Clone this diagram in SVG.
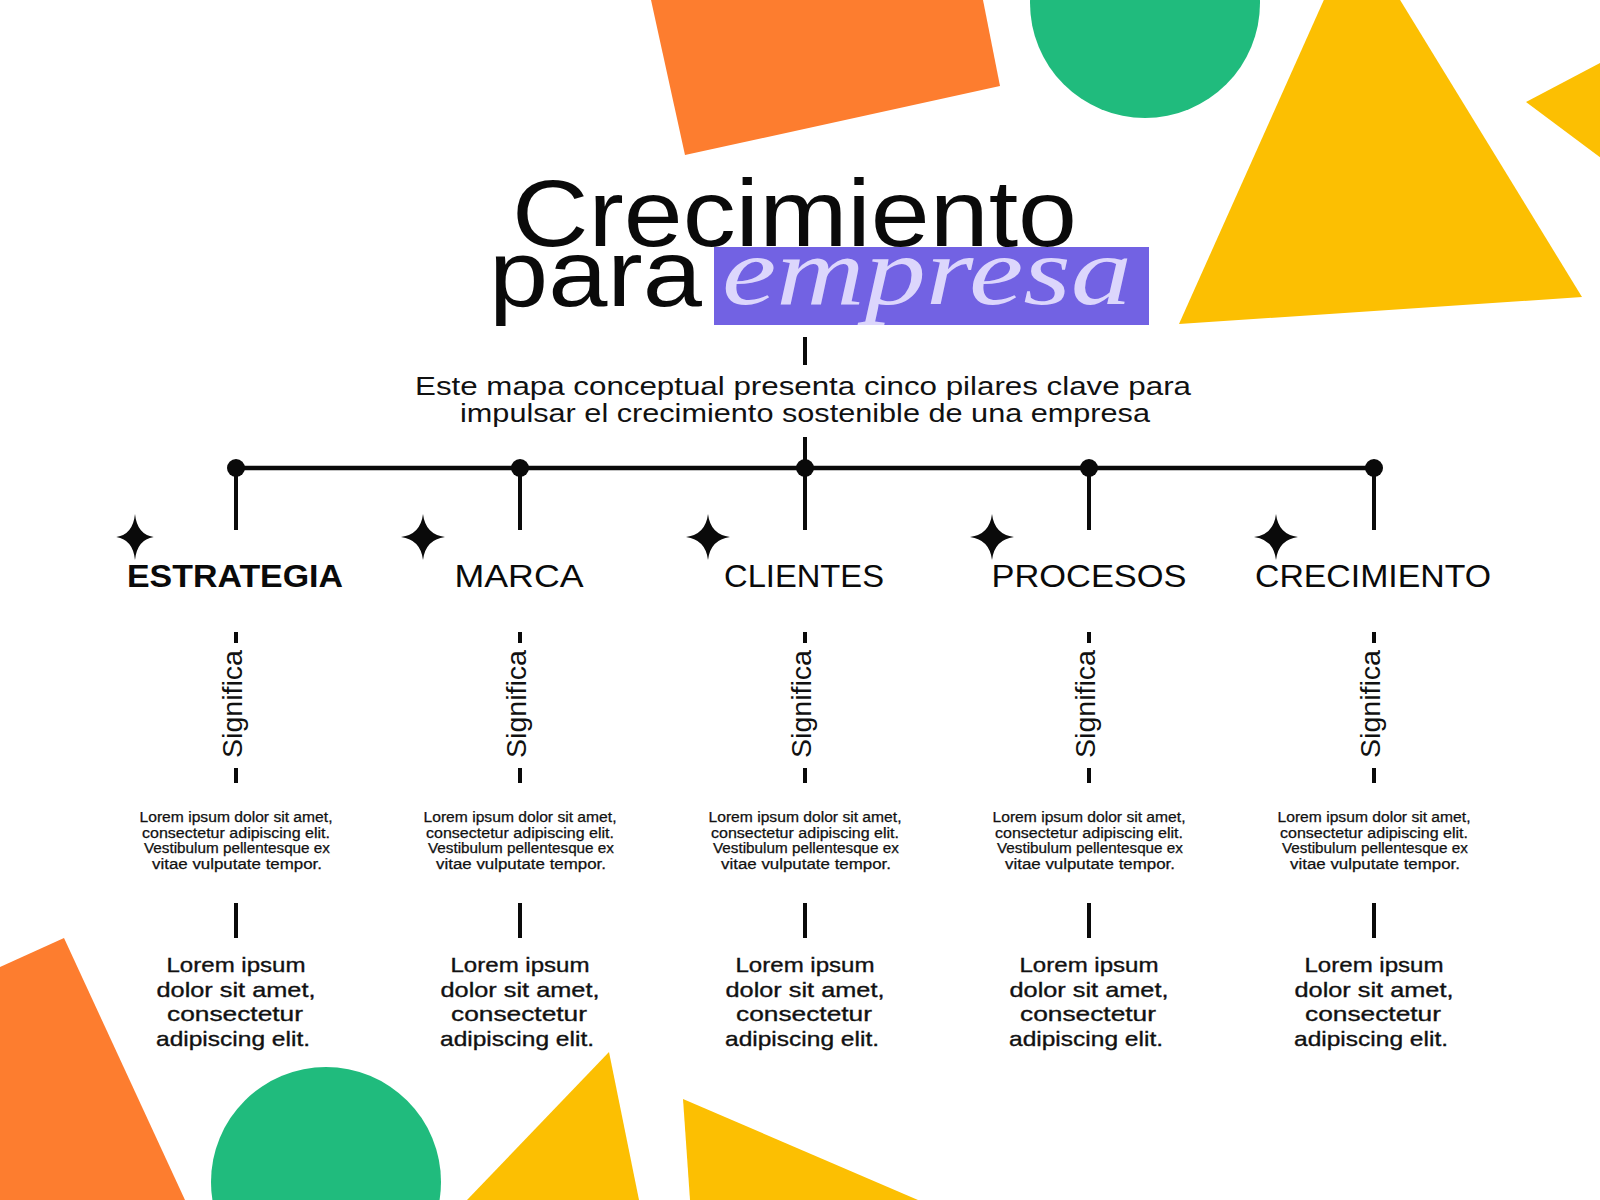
<svg xmlns="http://www.w3.org/2000/svg" width="1600" height="1200" viewBox="0 0 1600 1200">
<defs>
<style>
.bg{fill:#ffffff}
.or{fill:#fd7d2f}
.gr{fill:#20bb7d}
.ye{fill:#fcbf02}
.ln{stroke:#0a0a0a;stroke-width:4;fill:none}
.dot{fill:#0a0a0a}
.title{font-family:"Liberation Sans",Arial,sans-serif;font-size:95px;fill:#0a0a0a}
.script{font-family:"Liberation Serif","DejaVu Serif",serif;font-style:italic;font-size:98px;fill:#dcd6fc}
.sub{font-family:"Liberation Sans",Arial,sans-serif;font-size:26px;fill:#111;text-anchor:middle}
.hd{font-family:"Liberation Sans",Arial,sans-serif;font-size:32px;fill:#0a0a0a;text-anchor:middle}
.sig{font-family:"Liberation Sans",Arial,sans-serif;font-size:27px;fill:#111;text-anchor:middle}
.sm{font-family:"Liberation Sans",Arial,sans-serif;font-size:14px;fill:#111;text-anchor:middle;stroke:#111;stroke-width:0.25}
.lg{font-family:"Liberation Sans",Arial,sans-serif;font-size:21px;fill:#111;text-anchor:middle;stroke:#111;stroke-width:0.35}
</style>
<path id="star" d="M0,-23 Q2.5,-2.5 22,0 Q2.5,2.5 0,23 Q-2.5,2.5 -22,0 Q-2.5,-2.5 0,-23Z" fill="#0a0a0a"/>
</defs>
<rect class="bg" x="0" y="0" width="1600" height="1200"/>

<g id="decor">
<polygon class="or" points="651,0 983,0 1000,86 685,155"/>
<circle class="gr" cx="1145" cy="3" r="115"/>
<polygon class="ye" points="1179,324 1356,-72 1582,297"/>
<polygon class="ye" points="1526,102 1640,42 1640,187"/>
<polygon class="or" points="-20,976 64,938 185,1200 -20,1200"/>
<circle class="gr" cx="326" cy="1182" r="115"/>
<polygon class="ye" points="609,1052 467,1200 639,1200"/>
<polygon class="ye" points="683,1099 690,1200 918,1200"/>
</g>

<g id="title">
<text class="title" x="512" y="246" textLength="565" lengthAdjust="spacingAndGlyphs">Crecimiento</text>
<rect x="714" y="247" width="435" height="78" fill="#7262e3"/>
<text class="title" x="489" y="306" textLength="213" lengthAdjust="spacingAndGlyphs">para</text>
<text class="script" x="722" y="304" textLength="410" lengthAdjust="spacingAndGlyphs">empresa</text>
</g>

<g id="subtitle">
<text class="sub" x="803" y="395" textLength="776" lengthAdjust="spacingAndGlyphs">Este mapa conceptual presenta cinco pilares clave para</text>
<text class="sub" x="805" y="422" textLength="690" lengthAdjust="spacingAndGlyphs">impulsar el crecimiento sostenible de una empresa</text>
</g>

<g id="connectors">
<line class="ln" x1="805" y1="337" x2="805" y2="365"/>
<line class="ln" x1="805" y1="437" x2="805" y2="468"/>
<line class="ln" x1="236" y1="468" x2="1374" y2="468" style="stroke-width:4.5"/>
<line class="ln" x1="236" y1="468" x2="236" y2="530"/>
<line class="ln" x1="520" y1="468" x2="520" y2="530"/>
<line class="ln" x1="805" y1="468" x2="805" y2="530"/>
<line class="ln" x1="1089" y1="468" x2="1089" y2="530"/>
<line class="ln" x1="1374" y1="468" x2="1374" y2="530"/>
<circle class="dot" cx="236" cy="468" r="9"/>
<circle class="dot" cx="520" cy="468" r="9"/>
<circle class="dot" cx="805" cy="468" r="9"/>
<circle class="dot" cx="1089" cy="468" r="9"/>
<circle class="dot" cx="1374" cy="468" r="9"/>
<g>
<line class="ln" x1="236" y1="632" x2="236" y2="643"/><line class="ln" x1="236" y1="768" x2="236" y2="783"/><line class="ln" x1="236" y1="903" x2="236" y2="938"/>
<line class="ln" x1="520" y1="632" x2="520" y2="643"/><line class="ln" x1="520" y1="768" x2="520" y2="783"/><line class="ln" x1="520" y1="903" x2="520" y2="938"/>
<line class="ln" x1="805" y1="632" x2="805" y2="643"/><line class="ln" x1="805" y1="768" x2="805" y2="783"/><line class="ln" x1="805" y1="903" x2="805" y2="938"/>
<line class="ln" x1="1089" y1="632" x2="1089" y2="643"/><line class="ln" x1="1089" y1="768" x2="1089" y2="783"/><line class="ln" x1="1089" y1="903" x2="1089" y2="938"/>
<line class="ln" x1="1374" y1="632" x2="1374" y2="643"/><line class="ln" x1="1374" y1="768" x2="1374" y2="783"/><line class="ln" x1="1374" y1="903" x2="1374" y2="938"/>
</g>
</g>

<g id="node-estrategia">
<use href="#star" transform="translate(135,537) scale(0.85,1)"/>
<text class="hd" x="235" y="587" font-weight="bold" textLength="216" lengthAdjust="spacingAndGlyphs">ESTRATEGIA</text>
<text class="sig" transform="translate(242,704) rotate(-90)" textLength="108" lengthAdjust="spacingAndGlyphs">Significa</text>
<text class="sm" x="236" y="822" textLength="193" lengthAdjust="spacingAndGlyphs">Lorem ipsum dolor sit amet,</text>
<text class="sm" x="236" y="837.5" textLength="188" lengthAdjust="spacingAndGlyphs">consectetur adipiscing elit.</text>
<text class="sm" x="237" y="853" textLength="186" lengthAdjust="spacingAndGlyphs">Vestibulum pellentesque ex</text>
<text class="sm" x="237" y="868.5" textLength="170" lengthAdjust="spacingAndGlyphs">vitae vulputate tempor.</text>
<text class="lg" x="236" y="972" textLength="139" lengthAdjust="spacingAndGlyphs">Lorem ipsum</text>
<text class="lg" x="236" y="997" textLength="159" lengthAdjust="spacingAndGlyphs">dolor sit amet,</text>
<text class="lg" x="235" y="1021" textLength="136" lengthAdjust="spacingAndGlyphs">consectetur</text>
<text class="lg" x="233" y="1046" textLength="154" lengthAdjust="spacingAndGlyphs">adipiscing elit.</text>
</g>

<g id="node-marca">
<use href="#star" transform="translate(423,537)"/>
<text class="hd" x="519" y="587" textLength="129" lengthAdjust="spacingAndGlyphs">MARCA</text>
<text class="sig" transform="translate(526,704) rotate(-90)" textLength="108" lengthAdjust="spacingAndGlyphs">Significa</text>
<text class="sm" x="520" y="822" textLength="193" lengthAdjust="spacingAndGlyphs">Lorem ipsum dolor sit amet,</text>
<text class="sm" x="520" y="837.5" textLength="188" lengthAdjust="spacingAndGlyphs">consectetur adipiscing elit.</text>
<text class="sm" x="521" y="853" textLength="186" lengthAdjust="spacingAndGlyphs">Vestibulum pellentesque ex</text>
<text class="sm" x="521" y="868.5" textLength="170" lengthAdjust="spacingAndGlyphs">vitae vulputate tempor.</text>
<text class="lg" x="520" y="972" textLength="139" lengthAdjust="spacingAndGlyphs">Lorem ipsum</text>
<text class="lg" x="520" y="997" textLength="159" lengthAdjust="spacingAndGlyphs">dolor sit amet,</text>
<text class="lg" x="519" y="1021" textLength="136" lengthAdjust="spacingAndGlyphs">consectetur</text>
<text class="lg" x="517" y="1046" textLength="154" lengthAdjust="spacingAndGlyphs">adipiscing elit.</text>
</g>

<g id="node-clientes">
<use href="#star" transform="translate(708,537)"/>
<text class="hd" x="804" y="587" textLength="160" lengthAdjust="spacingAndGlyphs">CLIENTES</text>
<text class="sig" transform="translate(811,704) rotate(-90)" textLength="108" lengthAdjust="spacingAndGlyphs">Significa</text>
<text class="sm" x="805" y="822" textLength="193" lengthAdjust="spacingAndGlyphs">Lorem ipsum dolor sit amet,</text>
<text class="sm" x="805" y="837.5" textLength="188" lengthAdjust="spacingAndGlyphs">consectetur adipiscing elit.</text>
<text class="sm" x="806" y="853" textLength="186" lengthAdjust="spacingAndGlyphs">Vestibulum pellentesque ex</text>
<text class="sm" x="806" y="868.5" textLength="170" lengthAdjust="spacingAndGlyphs">vitae vulputate tempor.</text>
<text class="lg" x="805" y="972" textLength="139" lengthAdjust="spacingAndGlyphs">Lorem ipsum</text>
<text class="lg" x="805" y="997" textLength="159" lengthAdjust="spacingAndGlyphs">dolor sit amet,</text>
<text class="lg" x="804" y="1021" textLength="136" lengthAdjust="spacingAndGlyphs">consectetur</text>
<text class="lg" x="802" y="1046" textLength="154" lengthAdjust="spacingAndGlyphs">adipiscing elit.</text>
</g>

<g id="node-procesos">
<use href="#star" transform="translate(992,537)"/>
<text class="hd" x="1089" y="587" textLength="195" lengthAdjust="spacingAndGlyphs">PROCESOS</text>
<text class="sig" transform="translate(1095,704) rotate(-90)" textLength="108" lengthAdjust="spacingAndGlyphs">Significa</text>
<text class="sm" x="1089" y="822" textLength="193" lengthAdjust="spacingAndGlyphs">Lorem ipsum dolor sit amet,</text>
<text class="sm" x="1089" y="837.5" textLength="188" lengthAdjust="spacingAndGlyphs">consectetur adipiscing elit.</text>
<text class="sm" x="1090" y="853" textLength="186" lengthAdjust="spacingAndGlyphs">Vestibulum pellentesque ex</text>
<text class="sm" x="1090" y="868.5" textLength="170" lengthAdjust="spacingAndGlyphs">vitae vulputate tempor.</text>
<text class="lg" x="1089" y="972" textLength="139" lengthAdjust="spacingAndGlyphs">Lorem ipsum</text>
<text class="lg" x="1089" y="997" textLength="159" lengthAdjust="spacingAndGlyphs">dolor sit amet,</text>
<text class="lg" x="1088" y="1021" textLength="136" lengthAdjust="spacingAndGlyphs">consectetur</text>
<text class="lg" x="1086" y="1046" textLength="154" lengthAdjust="spacingAndGlyphs">adipiscing elit.</text>
</g>

<g id="node-crecimiento">
<use href="#star" transform="translate(1276,537)"/>
<text class="hd" x="1373" y="587" textLength="236" lengthAdjust="spacingAndGlyphs">CRECIMIENTO</text>
<text class="sig" transform="translate(1380,704) rotate(-90)" textLength="108" lengthAdjust="spacingAndGlyphs">Significa</text>
<text class="sm" x="1374" y="822" textLength="193" lengthAdjust="spacingAndGlyphs">Lorem ipsum dolor sit amet,</text>
<text class="sm" x="1374" y="837.5" textLength="188" lengthAdjust="spacingAndGlyphs">consectetur adipiscing elit.</text>
<text class="sm" x="1375" y="853" textLength="186" lengthAdjust="spacingAndGlyphs">Vestibulum pellentesque ex</text>
<text class="sm" x="1375" y="868.5" textLength="170" lengthAdjust="spacingAndGlyphs">vitae vulputate tempor.</text>
<text class="lg" x="1374" y="972" textLength="139" lengthAdjust="spacingAndGlyphs">Lorem ipsum</text>
<text class="lg" x="1374" y="997" textLength="159" lengthAdjust="spacingAndGlyphs">dolor sit amet,</text>
<text class="lg" x="1373" y="1021" textLength="136" lengthAdjust="spacingAndGlyphs">consectetur</text>
<text class="lg" x="1371" y="1046" textLength="154" lengthAdjust="spacingAndGlyphs">adipiscing elit.</text>
</g>
</svg>
